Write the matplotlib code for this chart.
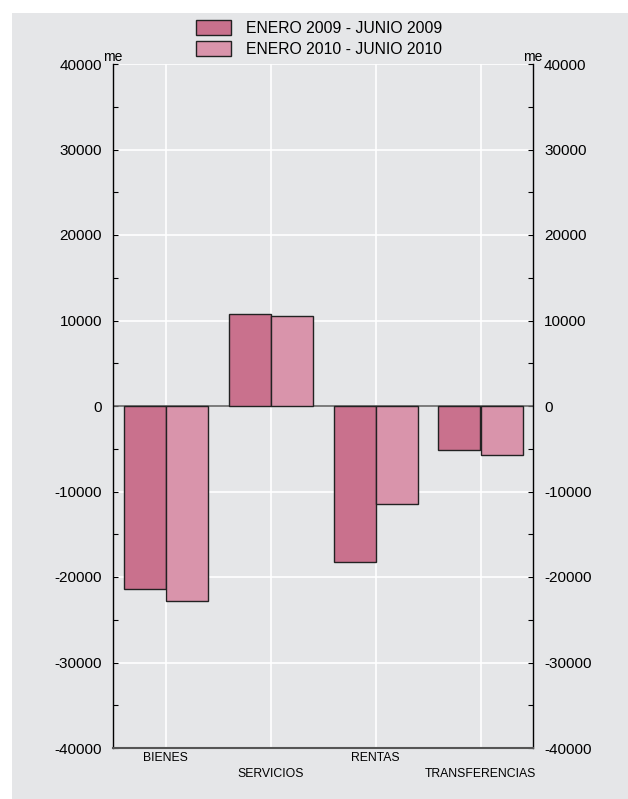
import numpy as np
import matplotlib
matplotlib.use("Agg")
import matplotlib.pyplot as plt
from matplotlib.patches import Rectangle
from matplotlib.ticker import MultipleLocator

plt.rcParams['font.family'] = ['Liberation Sans', 'DejaVu Sans']

# ------------------------
# Data (millones de euros)
# ------------------------
categorias = ["BIENES", "SERVICIOS", "RENTAS", "TRANSFERENCIAS"]
serie_2009 = [-21400, 10800, -18250, -5150]
serie_2010 = [-22800, 10500, -11500, -5700]
etiqueta_2009 = "ENERO 2009 - JUNIO 2009"
etiqueta_2010 = "ENERO 2010 - JUNIO 2010"

bg = "#E5E6E8"
col_2009 = "#C9718D"
col_2010 = "#D994AB"

fig = plt.figure(figsize=(6.28, 7.99), dpi=100)
fig.patch.set_facecolor("white")
fig.patches.append(Rectangle((12 / 628, 0), 1, 1 - 13 / 799,
                             transform=fig.transFigure, facecolor=bg,
                             edgecolor="none", zorder=-10))

ax = fig.add_axes([113 / 628, 1 - 748 / 799, 420 / 628, 684 / 799])
ax.set_facecolor(bg)

x = np.arange(len(categorias))
w = 0.4
b1 = ax.bar(x - w / 2, serie_2009, w, color=col_2009, edgecolor="#222222",
            linewidth=1, label=etiqueta_2009, zorder=3)
b2 = ax.bar(x + w / 2, serie_2010, w, color=col_2010, edgecolor="#222222",
            linewidth=1, label=etiqueta_2010, zorder=3)

ax.set_xlim(-0.5, 3.5)
ax.set_ylim(-40000, 40000)

# grid
ax.yaxis.set_major_locator(MultipleLocator(10000))
ax.yaxis.set_minor_locator(MultipleLocator(5000))
ax.grid(axis="y", which="major", color="white", linewidth=1.2, zorder=0)
ax.set_xticks(x)
ax.grid(axis="x", color="white", linewidth=1.2, zorder=0)
ax.axhline(0, color="#666666", linewidth=1.2, zorder=2)

# spines
ax.spines["top"].set_visible(False)
ax.spines["bottom"].set_color("#555555")
ax.spines["bottom"].set_linewidth(1.5)
ax.spines["left"].set_linewidth(1)
ax.spines["right"].set_linewidth(1)

# y ticks on both sides, inward
ax.tick_params(axis="y", which="both", direction="in", length=3.5, width=0.8,
               left=True, right=True, labelleft=True, labelright=True,
               labelsize=11)
ax.tick_params(axis="y", which="major", pad=8)
ax.set_yticks(np.arange(-40000, 40001, 10000))
ax.set_yticklabels([str(v) for v in range(-40000, 40001, 10000)])

# x tick labels, staggered
xlabels = [c if i % 2 == 0 else "\n" + c for i, c in enumerate(categorias)]
ax.set_xticklabels(xlabels, fontsize=8.8, linespacing=1.45)
ax.tick_params(axis="x", length=0, pad=3)

# unit markers
ax.text(0, 1.0, "me", transform=ax.transAxes, ha="center", va="bottom",
        fontsize=10)
ax.text(1, 1.0, "me", transform=ax.transAxes, ha="center", va="bottom",
        fontsize=10)

fig.legend(handles=[b1, b2], loc="upper left",
           bbox_to_anchor=(190 / 628, 1 - 14 / 799), frameon=False,
           fontsize=11.3, handlelength=2.2, handleheight=1.05,
           labelspacing=0.35, handletextpad=0.95, borderaxespad=0)

fig.savefig("out.png", dpi=100, facecolor=fig.get_facecolor())
